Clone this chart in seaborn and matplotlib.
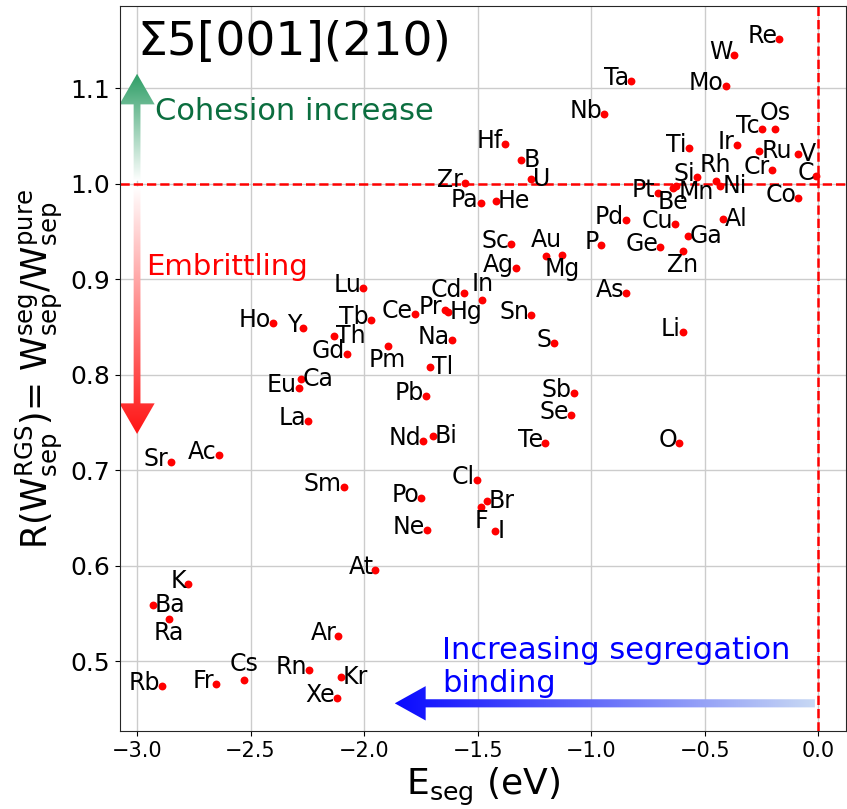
import numpy as np
import pandas as pd
import matplotlib
matplotlib.use("Agg")
import matplotlib.pyplot as plt
from matplotlib.colors import LinearSegmentedColormap
from matplotlib.patches import FancyArrow
import seaborn as sns

# solute elements, segregation energy (eV), cohesion ratio R
elements = ["Re", "W", "Ta", "Mo", "Nb", "Tc", "Os", "Ti", "Ir", "Ru", "V", "Cr", "C",
            "Si", "Rh", "Ni", "Pt", "Be", "Mn", "Co", "Pd", "Cu", "Al", "Ga", "P", "Ge", "Zn",
            "Hf", "B", "U", "Zr", "Pa", "He", "Sc", "Au", "Mg", "Ag", "Lu", "Cd", "In",
            "Tb", "Ce", "Pr", "Hg", "Sn", "Th", "Na", "S", "Pm", "Gd", "Tl", "Ho", "Y",
            "Ca", "Eu", "La", "Sr", "Ac", "Sm", "As", "Li", "Pb", "Sb", "Se", "Nd", "Bi",
            "Te", "O", "Cl", "Po", "Br", "F", "Ne", "I", "At", "K", "Ba", "Ra", "Ar", "Rn",
            "Kr", "Cs", "Fr", "Rb", "Xe"]
e_seg = [-0.172, -0.370, -0.825, -0.407, -0.944, -0.249, -0.190, -0.570, -0.359, -0.259,
         -0.091, -0.204, -0.010, -0.535, -0.451, -0.431, -0.708, -0.640, -0.628, -0.089,
         -0.846, -0.629, -0.421, -0.575, -0.959, -0.696, -0.597, -1.381, -1.307, -1.263,
         -1.557, -1.487, -1.419, -1.353, -1.197, -1.129, -1.330, -2.003, -1.559, -1.480,
         -1.971, -1.777, -1.645, -1.632, -1.264, -2.134, -1.614, -1.166, -1.896, -2.076,
         -1.711, -2.400, -2.268, -2.279, -2.288, -2.245, -2.852, -2.640, -2.090, -0.846,
         -0.597, -1.726, -1.076, -1.087, -1.741, -1.698, -1.204, -0.613, -1.503, -1.748,
         -1.461, -1.484, -1.723, -1.422, -1.950, -2.774, -2.930, -2.860, -2.114, -2.241,
         -2.103, -2.528, -2.651, -2.890, -2.120]
ratio = [1.151, 1.135, 1.107, 1.102, 1.073, 1.057, 1.057, 1.037, 1.040, 1.034,
         1.031, 1.014, 1.008, 1.007, 1.003, 0.998, 0.990, 0.995, 0.998, 0.985,
         0.962, 0.958, 0.963, 0.945, 0.936, 0.934, 0.929, 1.041, 1.025, 1.005,
         1.001, 0.980, 0.982, 0.937, 0.924, 0.925, 0.912, 0.891, 0.886, 0.878,
         0.857, 0.864, 0.868, 0.866, 0.863, 0.840, 0.836, 0.833, 0.830, 0.822,
         0.808, 0.854, 0.849, 0.796, 0.786, 0.752, 0.709, 0.716, 0.682, 0.886,
         0.845, 0.778, 0.781, 0.758, 0.731, 0.736, 0.728, 0.729, 0.690, 0.671,
         0.668, 0.662, 0.637, 0.636, 0.596, 0.581, 0.559, 0.544, 0.526, 0.491,
         0.484, 0.480, 0.476, 0.474, 0.462]

# where each label sits relative to its dot (default: left of dot)
right_of = ["Ru", "V", "Ni", "Al", "Ga", "B", "U", "He", "Hg", "Th", "Tl", "Ca", "Bi",
            "Br", "Ba", "Kr", "I", "Mn"]
above = ["Os", "Rh", "Au", "In", "Cs"]
below = ["Zn", "Mg", "Pm", "F", "Ra", "Be"]

df = pd.DataFrame({"element": elements, "e_seg": e_seg, "ratio": ratio})

sns.set_style("ticks")
plt.rcParams["font.family"] = ["DejaVu Sans"]
plt.rcParams["mathtext.default"] = "regular"
plt.rcParams["text.color"] = "black"
plt.rcParams["axes.labelcolor"] = "black"
plt.rcParams["xtick.color"] = "black"
plt.rcParams["ytick.color"] = "black"

fig, ax = plt.subplots(figsize=(8.47, 8.09), dpi=100)
fig.subplots_adjust(left=0.1417, right=0.9988, bottom=0.0964, top=0.9926)

ax.grid(True, color="#cccccc", lw=1)
ax.set_axisbelow(True)

sns.scatterplot(data=df, x="e_seg", y="ratio", color="red", s=32, linewidth=0,
                ax=ax, zorder=3)

for name, xv, yv in zip(elements, e_seg, ratio):
    if name in right_of:
        ha, off = "left", (2, -7)
        if name == "Mn":
            off = (3, -13)
    elif name in above:
        ha, off = "center", (0, 9)
    elif name in below:
        ha, off = "center", (0, -21)
    else:
        ha, off = "right", (-2, -4)
    ax.annotate(name, (xv, yv), xytext=off, textcoords="offset pixels",
                ha=ha, va="baseline", fontsize=17, color="black", zorder=4)

ax.axhline(1.0, color="red", ls="--", lw=1.8, zorder=2)
ax.axvline(0.0, color="red", ls="--", lw=1.8, zorder=2)


def gradient_arrow(x, y, dx, dy, width, head_width, head_length, colors, extent, vertical):
    arrow = FancyArrow(x, y, dx, dy, width=width, head_width=head_width,
                       head_length=head_length, length_includes_head=True,
                       facecolor="none", edgecolor="none")
    ax.add_patch(arrow)
    cmap = LinearSegmentedColormap.from_list("g", colors)
    grad = np.linspace(0, 1, 256)
    grad = grad.reshape(-1, 1) if vertical else grad.reshape(1, -1)
    im = ax.imshow(grad, extent=extent, origin="lower", cmap=cmap, aspect="auto",
                   interpolation="bilinear", zorder=2.5)
    im.set_clip_path(arrow)


# cohesion (green, up) and embrittling (red, down)
gradient_arrow(-3.0, 1.003, 0, 0.112, 0.03, 0.155, 0.032,
               ["white", "#2e9e66"], [-3.1, -2.9, 1.003, 1.115], True)
gradient_arrow(-3.0, 0.997, 0, -0.259, 0.03, 0.155, 0.032,
               ["#ff1414", "white"], [-3.1, -2.9, 0.738, 0.997], True)
# segregation binding (blue, left)
gradient_arrow(-0.015, 0.456, -1.85, 0, 0.0085, 0.036, 0.136,
               ["#0a0aff", "#c8d9f4"], [-1.865, -0.015, 0.43, 0.48], False)

ax.text(-3.0, 1.1346, "Σ5[001](210)", fontsize=34, ha="left", va="baseline")
ax.text(-2.921, 1.067, "Cohesion increase", fontsize=22, color="#0b6e3f",
        ha="left", va="baseline")
ax.text(-2.959, 0.904, "Embrittling", fontsize=21, color="red", ha="left", va="baseline")
ax.text(-1.657, 0.468, "Increasing segregation\nbinding", fontsize=22, color="blue",
        ha="left", va="baseline", linespacing=1.15)

ax.set_xlim(-3.075, 0.122)
ax.set_ylim(0.427, 1.186)
ax.set_xticks(np.arange(-3.0, 0.01, 0.5))
ax.set_yticks([0.5, 0.6, 0.7, 0.8, 0.9, 1.0, 1.1])
ax.tick_params(axis="x", labelsize=15)
ax.tick_params(axis="y", labelsize=18)

ax.set_xlabel(r"E$_{seg}$ (eV)", fontsize=26)
ax.set_ylabel(r"R(W$_{sep}^{RGS}$)= W$_{sep}^{seg}$/W$_{sep}^{pure}$", fontsize=25)

fig.savefig("out.png", dpi=100)
